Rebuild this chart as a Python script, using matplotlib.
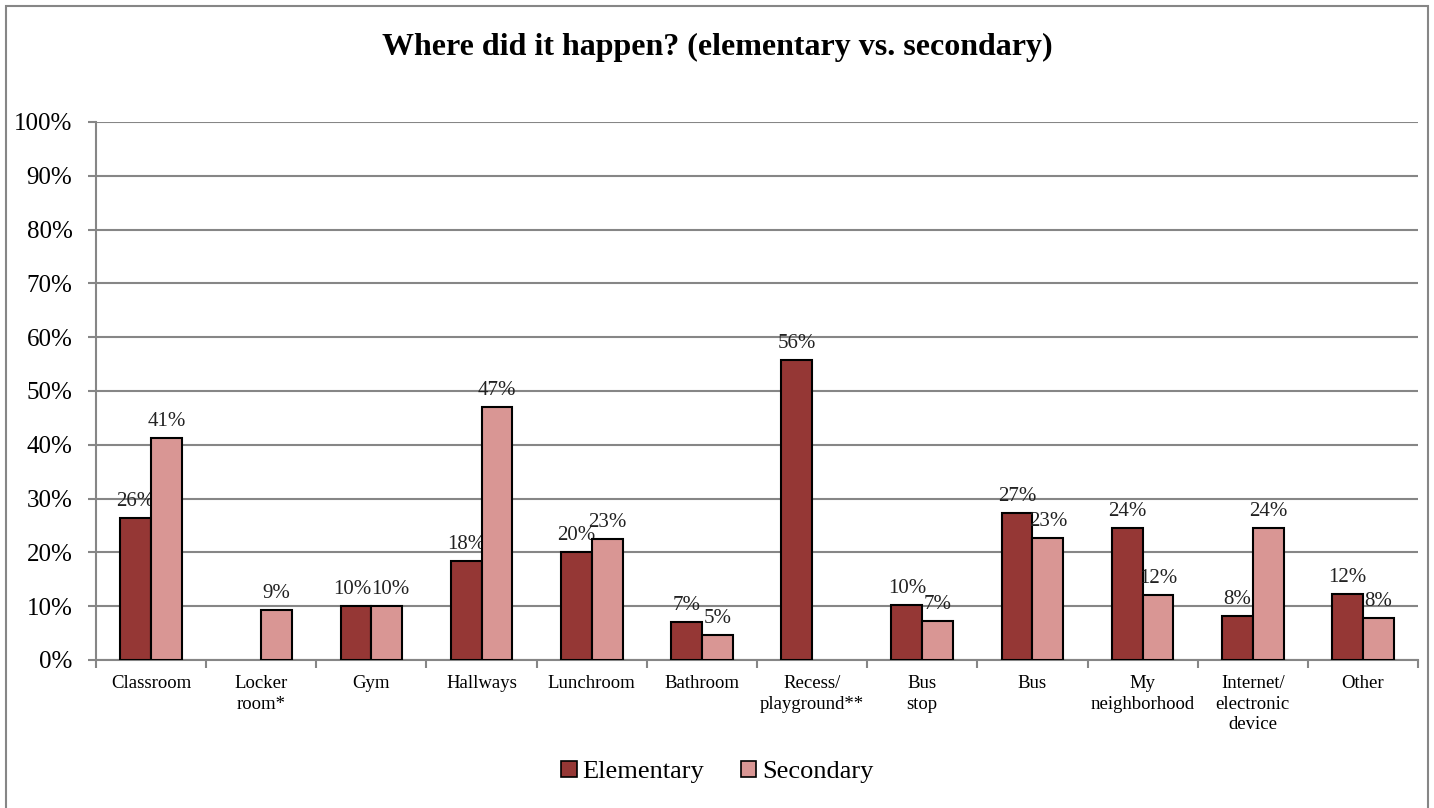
import matplotlib
matplotlib.use("Agg")
import matplotlib.pyplot as plt
from matplotlib.patches import Rectangle, Patch
import numpy as np

plt.rcParams['font.family'] = ['Liberation Serif', 'DejaVu Serif']

categories = ["Classroom", "Locker\nroom*", "Gym", "Hallways", "Lunchroom", "Bathroom",
              "Recess/\nplayground**", "Bus\nstop", "Bus", "My\nneighborhood",
              "Internet/\nelectronic\ndevice", "Other"]
elementary = [26.4, None, 10.0, 18.4, 20.1, 7.1, 55.8, 10.2, 27.3, 24.5, 8.2, 12.3]
secondary = [41.3, 9.3, 10.1, 47.1, 22.5, 4.6, None, 7.2, 22.7, 12.1, 24.5, 7.8]
elem_labels = ["26%", "", "10%", "18%", "20%", "7%", "56%", "10%", "27%", "24%", "8%", "12%"]
sec_labels = ["41%", "9%", "10%", "47%", "23%", "5%", "", "7%", "23%", "12%", "24%", "8%"]
yticks = [0, 10, 20, 30, 40, 50, 60, 70, 80, 90, 100]

elem_color = "#953735"
sec_color = "#D99694"
grid_color = "#868686"

W, H = 1434, 808
fig = plt.figure(figsize=(W / 100, H / 100), dpi=100)
ax = fig.add_axes([96 / W, 1 - 660 / H, (1418 - 96) / W, (660 - 122) / H])

x = np.arange(len(categories))
bw = 0.28

def draw_series(values, others, labels, offset, side, color):
    for xi, v, o, lab in zip(x, values, others, labels):
        if v is None:
            continue
        ax.bar(xi + offset, v, width=bw, color=color, edgecolor="black",
               linewidth=1.5, zorder=3)
        # labels of equal-height neighbours are pushed slightly apart
        dx = 2.5 * side if (o is not None and abs(o - v) < 1.5) else 0
        ax.annotate(lab, (xi + offset, v), xytext=(dx, 5), textcoords="offset points",
                    ha="center", va="bottom", fontsize=15, color="#222222")

draw_series(elementary, secondary, elem_labels, -bw / 2, -1, elem_color)
draw_series(secondary, elementary, sec_labels, bw / 2, 1, sec_color)

ax.set_xlim(-0.5, len(categories) - 0.5)
ax.set_ylim(0, 100)
ax.set_yticks(yticks)
ax.set_yticklabels([f"{t}%" for t in yticks], fontsize=18)
ax.yaxis.grid(True, color=grid_color, linewidth=1.5, zorder=0)
ax.set_axisbelow(True)

# category boundaries carry the tick marks, labels sit at centres
ax.set_xticks(np.arange(len(categories) + 1) - 0.5)
ax.set_xticklabels([])
ax.set_xticks(x, minor=True)
ax.set_xticklabels(categories, minor=True, fontsize=13.5, linespacing=1.25)
ax.tick_params(axis="x", which="minor", length=0, pad=11)
ax.tick_params(axis="x", which="major", length=6, width=1.5, color=grid_color, direction="out")
ax.tick_params(axis="y", length=6, width=1.5, color=grid_color, pad=11)

for side in ["top", "right"]:
    ax.spines[side].set_visible(False)
for side in ["left", "bottom"]:
    ax.spines[side].set_color(grid_color)
    ax.spines[side].set_linewidth(1.5)

fig.text(0.5, 1 - 47 / H, "Where did it happen? (elementary vs. secondary)",
         ha="center", va="center", fontsize=23, fontweight="bold")

handles = [Patch(facecolor=elem_color, edgecolor="black", linewidth=1.2, label="Elementary"),
           Patch(facecolor=sec_color, edgecolor="black", linewidth=1.2, label="Secondary")]
fig.legend(handles=handles, loc="center", bbox_to_anchor=(0.5, 1 - 772 / H), ncol=2,
           frameon=False, fontsize=19, handlelength=0.6, handleheight=0.6,
           handletextpad=0.2, columnspacing=1.4)

# outer chart border
fig.patches.append(Rectangle((6 / W, -0.05), (1428 - 6) / W, 1.05 - 6 / H,
                             transform=fig.transFigure, fill=False,
                             edgecolor=grid_color, linewidth=1.5))

fig.savefig("out.png", dpi=100)
